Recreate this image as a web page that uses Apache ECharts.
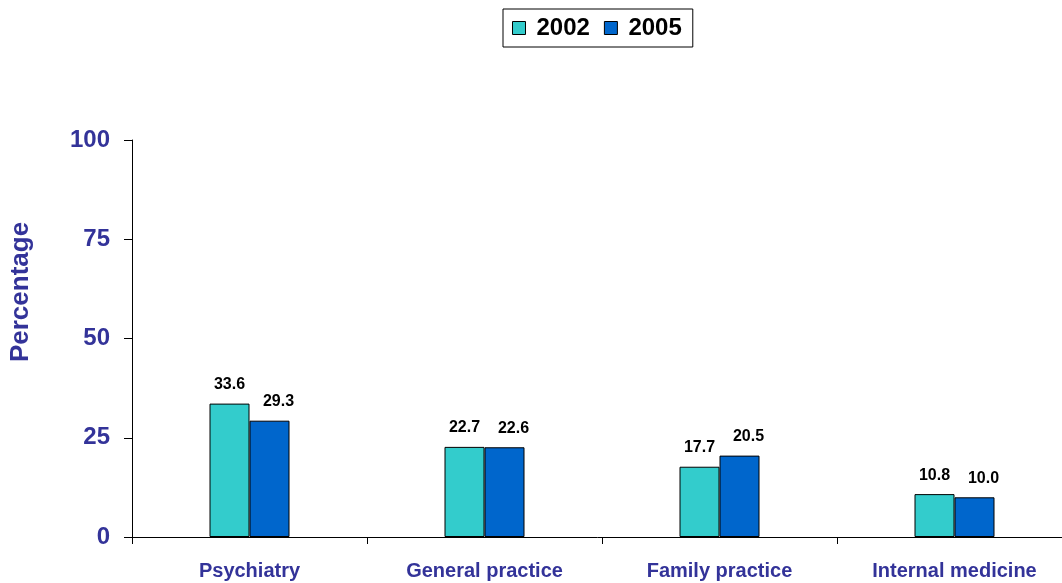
<!DOCTYPE html>
<html><head><meta charset="utf-8">
<script src="https://cdn.jsdelivr.net/npm/echarts@6/dist/echarts.min.js"></script>
<style>html,body{margin:0;padding:0;background:#fff}#c{width:1062px;height:583px}</style>
</head><body><div id="c"></div>
<script>
const categories = ['Psychiatry', 'General practice', 'Family practice', 'Internal medicine'];
const values2002 = [33.6, 22.7, 17.7, 10.8];
const values2005 = [29.3, 22.6, 20.5, 10.0];
const yTicks = [0, 25, 50, 75, 100];

const chart = echarts.init(document.getElementById('c'));
const font = 'Arial, "Liberation Sans", sans-serif';
const axisBlue = '#333399';
chart.setOption({
  animation: false,
  textStyle: { fontFamily: font },
  legend: {
    left: 503, top: 9,
    padding: [7, 11, 7, 9],
    itemWidth: 13, itemHeight: 13, itemGap: 14, icon: 'rect',
    borderColor: '#000', borderWidth: 1,
    itemStyle: { borderColor: '#000', borderWidth: 1 },
    textStyle: { fontSize: 24, fontWeight: 'bold', color: '#000', fontFamily: font, padding: [0, 0, 0, 6] },
    data: ['2002', '2005']
  },
  grid: { left: 132, top: 140, width: 940, height: 397, outerBoundsMode: 'none', containLabel: false },
  xAxis: {
    type: 'category', data: categories,
    axisLine: { lineStyle: { color: '#000', width: 1 } },
    axisTick: { show: true, length: 7, lineStyle: { color: '#000' } },
    axisLabel: { fontSize: 20, fontWeight: 'bold', color: axisBlue, margin: 24, fontFamily: font }
  },
  yAxis: {
    type: 'value', min: yTicks[0], max: yTicks[yTicks.length - 1], interval: 25,
    splitLine: { show: false },
    axisLine: { show: true, lineStyle: { color: '#000', width: 1 } },
    axisTick: { show: true, length: 8, lineStyle: { color: '#000' } },
    axisLabel: { fontSize: 24, fontWeight: 'bold', color: axisBlue, margin: 22, fontFamily: font }
  },
  graphic: [{
    type: 'text', x: 21, y: 292, rotation: Math.PI / 2,
    style: { text: 'Percentage', fontSize: 26, fontWeight: 'bold', fill: axisBlue, font: 'bold 26px Arial, "Liberation Sans", sans-serif', textAlign: 'center', textVerticalAlign: 'middle' }
  }],
  series: [
    {
      name: '2002', type: 'bar', data: values2002, barWidth: 40, barGap: '0%',
      itemStyle: { color: '#33CCCC', borderColor: '#000', borderWidth: 1 },
      label: { show: true, position: 'top', distance: 11, fontSize: 16, fontWeight: 'bold', color: '#000', fontFamily: font, formatter: p => p.value.toFixed(1) }
    },
    {
      name: '2005', type: 'bar', data: values2005, barWidth: 40, barGap: '0%',
      itemStyle: { color: '#0066CC', borderColor: '#000', borderWidth: 1 },
      label: { show: true, position: 'top', distance: 11, offset: [9, 0], fontSize: 16, fontWeight: 'bold', color: '#000', fontFamily: font, formatter: p => p.value.toFixed(1) }
    }
  ]
});
</script></body></html>
